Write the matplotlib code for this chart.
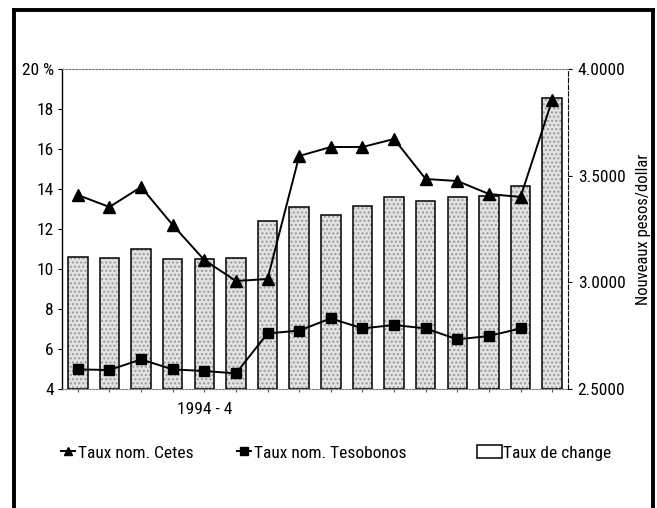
import numpy as np
import matplotlib
matplotlib.use("Agg")
import matplotlib.pyplot as plt
from matplotlib.lines import Line2D
from matplotlib import font_manager as fm

# the original uses a narrow Arial; take the narrowest family available
installed = {f.name for f in fm.fontManager.ttflist}
narrow = [n for n in ["Liberation Sans Narrow", "Arial Narrow", "Roboto Condensed"] if n in installed]
if narrow:
    plt.rcParams['font.family'] = [narrow[0], 'DejaVu Sans']
    FS = 12.5
else:
    plt.rcParams['font.family'] = ['Liberation Sans', 'DejaVu Sans']
    FS = 11
plt.rcParams['font.size'] = FS

# Monthly data, 1994 (only "1994 - 4" is labelled on the original)
tick_labels = ["", "", "", "", "1994 - 4", "", "", "", "", "", "", "", "", "", "", ""]
cetes = [13.7, 13.1, 14.1, 12.2, 10.45, 9.4, 9.5, 15.65, 16.1, 16.1, 16.5, 14.5, 14.4, 13.75, 13.6, 18.45]
tesobonos = [4.98, 4.95, 5.48, 4.98, 4.9, 4.78, 6.78, 6.92, 7.53, 7.03, 7.2, 7.03, 6.48, 6.65, 7.03]
change = [3.117, 3.114, 3.156, 3.109, 3.109, 3.112, 3.286, 3.352, 3.316, 3.359,
          3.399, 3.383, 3.399, 3.404, 3.452, 3.863]

x = np.arange(len(tick_labels))

fig = plt.figure(figsize=(6.57, 5.08), dpi=100)
ax = fig.add_axes([62 / 657, 1 - 389 / 508, 506 / 657, 320 / 508])
ax2 = ax.twinx()
ax.set_zorder(ax2.get_zorder() + 1)
ax.patch.set_visible(False)

# bars: stippled fill then dark outline
ax2.bar(x, np.array(change) - 2.5, bottom=2.5, width=0.62, color="#e2e2e2",
        hatch="....", edgecolor="#999999", linewidth=0)
bars = ax2.bar(x, np.array(change) - 2.5, bottom=2.5, width=0.62, fill=False,
               edgecolor="black", linewidth=1.1)
ax2.set_ylim(2.5, 4.0)
ax2.set_yticks([2.5, 3.0, 3.5, 4.0])
ax2.set_yticklabels([f"{v:.4f}" for v in [2.5, 3.0, 3.5, 4.0]])
ax2.set_ylabel("Nouveaux pesos/dollar", fontsize=FS - 0.5)
ax2.yaxis.set_label_coords(1.135, 0.5)
ax2.tick_params(axis="y", direction="out", length=3, width=0.8, pad=4)

l1, = ax.plot(x, cetes, color="black", lw=1.4, marker="^", markersize=8)
l2, = ax.plot(x[:len(tesobonos)], tesobonos, color="black", lw=1.4, marker="s", markersize=7)
ax.set_ylim(4, 20)
ax.set_xlim(-0.5, len(x) - 0.5)
yt = np.arange(4, 21, 2)
ax.set_yticks(yt)
ax.set_yticklabels([str(v) if v < 20 else "20 %" for v in yt])
ax.set_xticks(x)
ax.set_xticklabels(tick_labels)
ax.tick_params(axis="y", direction="out", length=3, width=0.8, pad=3)
ax.tick_params(axis="x", direction="out", length=2.5, width=0.8, color="#555555", pad=7)

for a in (ax, ax2):
    for s in a.spines.values():
        s.set_visible(False)
ax.spines["left"].set_visible(True)
ax.spines["left"].set_linewidth(1.0)
for side in ("top", "bottom"):
    ax.spines[side].set_visible(True)
    ax.spines[side].set_linestyle((0, (1.5, 1.5)))
    ax.spines[side].set_color("#777777")
    ax.spines[side].set_linewidth(0.8)
ax2.spines["right"].set_visible(True)
ax2.spines["right"].set_linestyle((0, (4, 2)))
ax2.spines["right"].set_linewidth(0.8)

# legend, three separate entries as in the original
leg_kw = dict(loc="center left", frameon=False, borderpad=0,
              borderaxespad=0, fontsize=FS)
ly = 1 - 453 / 508
fig.legend([l1], ["Taux nom. Cetes"], bbox_to_anchor=(61 / 657, ly),
           handlelength=0.8, handletextpad=0.2, markerscale=0.8, **leg_kw)
fig.legend([l2], ["Taux nom. Tesobonos"], bbox_to_anchor=(237 / 657, ly),
           handlelength=0.8, handletextpad=0.2, markerscale=0.8, **leg_kw)
fig.legend([bars], ["Taux de change"], bbox_to_anchor=(477 / 657, ly),
           handlelength=1.45, handleheight=0.8, handletextpad=0.05, **leg_kw)

# thick outer frame (runs off the bottom of the picture)
fl = 13.5 / 657
fr = 652.5 / 657
ft = 1 - 9.5 / 508
for xs, ys in [([fl, fl], [-0.01, ft]), ([fl, fr], [ft, ft]), ([fr, fr], [ft, -0.01])]:
    fig.add_artist(Line2D(xs, ys, transform=fig.transFigure, color="black", lw=2.8))

plt.savefig("out.png", dpi=100)
